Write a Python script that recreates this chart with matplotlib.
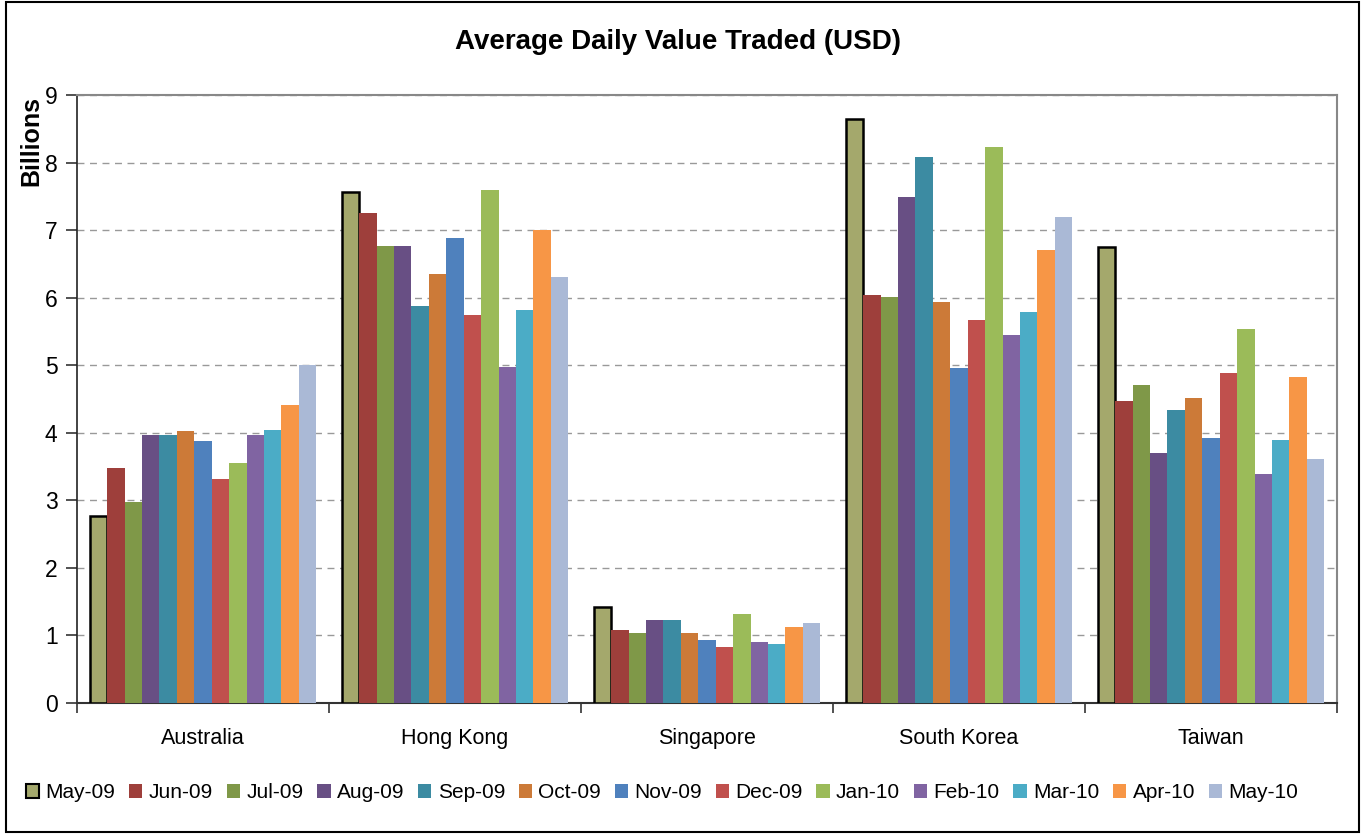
import matplotlib
matplotlib.use("Agg")
import matplotlib.pyplot as plt
from matplotlib.patches import Rectangle, Patch
import numpy as np

plt.rcParams['font.family'] = ['Liberation Sans', 'DejaVu Sans']

categories = ["Australia", "Hong Kong", "Singapore", "South Korea", "Taiwan"]
months = ["May-09", "Jun-09", "Jul-09", "Aug-09", "Sep-09", "Oct-09", "Nov-09",
          "Dec-09", "Jan-10", "Feb-10", "Mar-10", "Apr-10", "May-10"]

australia = [2.77, 3.48, 2.97, 3.96, 3.96, 4.02, 3.88, 3.31, 3.55, 3.96, 4.04, 4.41, 5.00]
hong_kong = [7.57, 7.25, 6.76, 6.77, 5.87, 6.35, 6.89, 5.75, 7.60, 4.98, 5.82, 7.00, 6.31]
singapore = [1.42, 1.08, 1.03, 1.23, 1.23, 1.03, 0.93, 0.83, 1.32, 0.90, 0.88, 1.12, 1.18]
south_korea = [8.64, 6.04, 6.01, 7.49, 8.08, 5.94, 4.96, 5.67, 8.23, 5.45, 5.79, 6.70, 7.19]
taiwan = [6.75, 4.47, 4.70, 3.70, 4.33, 4.51, 3.92, 4.88, 5.54, 3.39, 3.89, 4.82, 3.61]

colors = ["#A4A86C", "#9E3F3B", "#7F9848", "#684F84", "#3C8BA2", "#CC7A38", "#4F81BD",
          "#C0504D", "#9BBB59", "#8064A2", "#4BACC6", "#F79646", "#AAB9D6"]

data = np.array([australia, hong_kong, singapore, south_korea, taiwan])  # groups x months

fig = plt.figure(figsize=(13.68, 8.34), dpi=100)
ax = fig.add_axes([77/1368, 1-703/834, (1337-77)/1368, (703-95)/834])

n = len(months)
w = 0.0692
x = np.arange(len(categories))
handles = []
for j, m in enumerate(months):
    offs = (j - (n - 1) / 2) * w
    if j == 0:
        ax.bar(x + offs, data[:, j], width=w, color=colors[j], edgecolor="black",
               linewidth=1.8, zorder=3)
        handles.append(Patch(facecolor=colors[j], edgecolor="black", linewidth=1.5, label=m))
    else:
        ax.bar(x + offs, data[:, j], width=w, color=colors[j], linewidth=0, zorder=3)
        handles.append(Patch(facecolor=colors[j], edgecolor="none", label=m))

ax.set_xlim(-0.5, len(categories) - 0.5)
ax.set_ylim(0, 9)
ax.set_yticks(range(0, 10))
ax.yaxis.grid(True, linestyle=(0, (5, 4)), color="#999999", linewidth=1.0, zorder=0)
ax.set_axisbelow(True)

ax.set_xticks(np.arange(-0.5, len(categories)), minor=False)
ax.set_xticklabels([])
ax.set_xticks(x, minor=True)
ax.set_xticklabels(categories, minor=True, fontsize=15.5)
ax.tick_params(axis="x", which="minor", length=0, pad=18)
ax.tick_params(axis="x", which="major", direction="out", length=7, width=1.2, color="#333333")
ax.tick_params(axis="y", direction="out", length=8, width=1.2, color="#333333",
               labelsize=16.5, pad=6)

for s in ["top", "right"]:
    ax.spines[s].set_color("#888888")
    ax.spines[s].set_linewidth(1.5)
ax.spines["left"].set_color("#222222")
ax.spines["left"].set_linewidth(1.2)
ax.spines["bottom"].set_color("#333333")
ax.spines["bottom"].set_linewidth(1.5)

fig.text(678/1368, 1-42/834, "Average Daily Value Traded (USD)", fontsize=20,
         fontweight="bold", ha="center", va="center")
fig.text(31/1368, 1-141/834, "Billions", fontsize=18, fontweight="bold",
         rotation=90, ha="center", va="center")

fig.legend(handles=handles, loc="center", bbox_to_anchor=(662/1368, 1-793/834),
           ncol=13, frameon=False, fontsize=15, handlelength=0.65, handleheight=0.65,
           handletextpad=0.3, columnspacing=0.65, borderaxespad=0)

fig.patches.append(Rectangle((6/1368, 2/834), 1353/1368, 830/834, transform=fig.transFigure,
                             fill=False, edgecolor="black", linewidth=1.5))

fig.savefig("out.png", dpi=100)
